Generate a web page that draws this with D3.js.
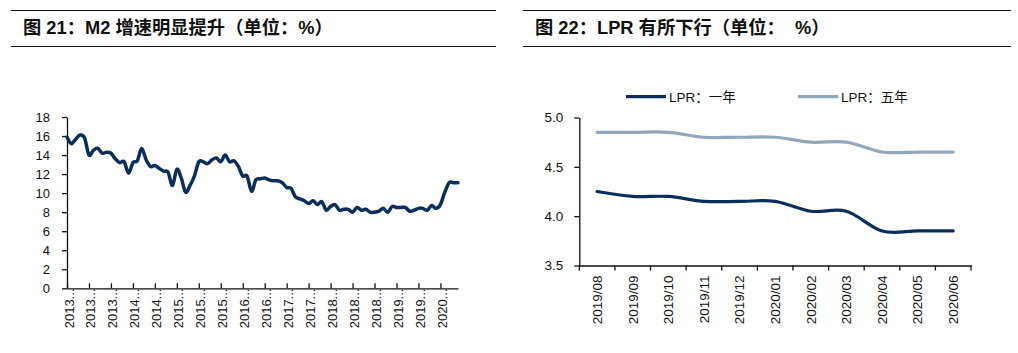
<!DOCTYPE html>
<html>
<head>
<meta charset="utf-8">
<script src="https://cdn.jsdelivr.net/npm/d3@7"></script>
<style>
  html, body { margin: 0; padding: 0; background: #fff; }
  svg { display: block; font-family: "Liberation Sans", Arial, "Noto Sans CJK SC", sans-serif; }
</style>
</head>
<body>
<div id="chart"></div>
<script>
// M2 同比增速（%），2013-01 至 2020-06，按月
const m2Values = [
  15.9, 15.2, 15.7, 16.1, 15.8, 14.0, 14.5, 14.7, 14.2, 14.3, 14.2, 13.6,
  13.2, 13.3, 12.1, 13.2, 13.4, 14.7, 13.5, 12.8, 12.9, 12.6, 12.3, 12.2,
  10.8, 12.5, 11.6, 10.1, 10.8, 11.8, 13.3, 13.3, 13.1, 13.5, 13.7, 13.3,
  14.0, 13.3, 13.4, 12.8, 11.8, 11.8, 10.2, 11.4, 11.5, 11.6, 11.4, 11.3,
  11.3, 11.1, 10.6, 10.5, 9.6, 9.4, 9.2, 8.9, 9.2, 8.8, 9.1, 8.2,
  8.6, 8.8, 8.2, 8.3, 8.3, 8.0, 8.5, 8.2, 8.3, 8.0, 8.0, 8.1,
  8.4, 8.0, 8.6, 8.5, 8.5, 8.5, 8.1, 8.2, 8.4, 8.4, 8.2, 8.7,
  8.4, 8.8, 10.1, 11.1, 11.1, 11.1
]
// 横轴标签每 5 个月一个，原图被截断成 "2013..."
const m2TickLabels = ['2013...', '2013...', '2013...', '2014...', '2014...', '2015...', '2015...', '2015...', '2016...',
  '2016...', '2017...', '2017...', '2018...', '2018...', '2018...', '2019...', '2019...', '2020...']
const m2YTicks = [0, 2, 4, 6, 8, 10, 12, 14, 16, 18]

const lprMonths = ['2019/08', '2019/09', '2019/10', '2019/11', '2019/12', '2020/01', '2020/02', '2020/03', '2020/04', '2020/05', '2020/06']
const lpr1y = [4.25, 4.20, 4.20, 4.15, 4.15, 4.15, 4.05, 4.05, 3.85, 3.85, 3.85]
const lpr5y = [4.85, 4.85, 4.85, 4.80, 4.80, 4.80, 4.75, 4.75, 4.65, 4.65, 4.65]
const lprYTicks = [3.5, 4.0, 4.5, 5.0]
const lprSeries = [
  { name: 'LPR：一年', values: lpr1y, color: '#0b2d5a' },
  { name: 'LPR：五年', values: lpr5y, color: '#94a6b9' }
]

const width = 1018
const height = 353
const svg = d3.select('#chart').append('svg').attr('width', width).attr('height', height)

// 标题栏
function header(x0, x1, label) {
  svg.append('line').attr('x1', x0).attr('x2', x1).attr('y1', 10.5).attr('y2', 10.5).attr('stroke', '#111').attr('stroke-width', 1.2)
  svg.append('line').attr('x1', x0).attr('x2', x1).attr('y1', 46.5).attr('y2', 46.5).attr('stroke', '#111').attr('stroke-width', 1.2)
  svg.append('text').attr('x', x0 + 12).attr('y', 34).text(label)
    .style('font-size', '18.3px').style('font-weight', 'bold').attr('fill', '#111')
    .attr('xml:space', 'preserve')
}
header(11, 496, '图 21：M2 增速明显提升（单位：%）')
header(523, 1011, '图 22：LPR 有所下行（单位：  %）')

// ---------- 左图：M2 ----------
const m2x = d3.scaleLinear().domain([0, m2Values.length - 1]).range([67, 458])
const m2y = d3.scaleLinear().domain([0, 18]).range([288.3, 117])

const m2yAxis = svg.append('g').attr('transform', 'translate(67,0)')
  .call(d3.axisLeft(m2y).tickValues(m2YTicks).tickSize(5).tickSizeOuter(0).tickPadding(12))
m2yAxis.selectAll('text').style('font-size', '13px').attr('fill', '#111')

const m2TickIdx = m2TickLabels.map((d, i) => i * 5)
const m2xAxis = svg.append('g').attr('transform', `translate(0,${m2y(0)})`)
  .call(d3.axisBottom(m2x).tickValues(m2TickIdx).tickSize(-5).tickSizeOuter(0).tickFormat((d, i) => m2TickLabels[i]))
m2xAxis.selectAll('text')
  .attr('transform', 'rotate(-90)').attr('text-anchor', 'start')
  .attr('x', -40).attr('y', 6).attr('dy', 0)
  .style('font-size', '13px').attr('fill', '#111')

svg.selectAll('.domain, .tick line').attr('stroke', '#111').attr('stroke-width', 1.3)

svg.append('path')
  .datum(m2Values)
  .attr('fill', 'none').attr('stroke', '#0b2d5a').attr('stroke-width', 3.5)
  .attr('stroke-linejoin', 'round').attr('stroke-linecap', 'round')
  .attr('d', d3.line().x((d, i) => m2x(i)).y(d => m2y(d)).curve(d3.curveCatmullRom.alpha(0)))

// ---------- 右图：LPR ----------
const lx = d3.scaleBand().domain(lprMonths).range([579.3, 971]).padding(0)
const ly = d3.scaleLinear().domain([3.5, 5.0]).range([265.5, 117.5])

const lyAxis = svg.append('g').attr('transform', 'translate(579.3,0)')
  .call(d3.axisLeft(ly).tickValues(lprYTicks).tickSize(5).tickSizeOuter(0).tickPadding(11).tickFormat(d3.format('.1f')))
lyAxis.selectAll('text').style('font-size', '13.5px').attr('fill', '#111')

const lxAxis = svg.append('g').attr('transform', `translate(0,${ly(3.5)})`)
  .call(d3.axisBottom(lx).tickSize(0).tickSizeOuter(0))
lxAxis.selectAll('text')
  .attr('transform', 'rotate(-90)').attr('text-anchor', 'end')
  .attr('x', -10).attr('y', 4.8).attr('dy', 0)
  .style('font-size', '13.5px').attr('fill', '#111')
// 刻度线在类别之间
const bounds = lprMonths.map(d => lx(d)).concat([lx.range()[1]])
lxAxis.selectAll('.between').data(bounds).join('line').attr('class', 'between')
  .attr('x1', d => d).attr('x2', d => d).attr('y1', 0).attr('y2', 5)

svg.selectAll('.domain, .tick line, .between').attr('stroke', '#111').attr('stroke-width', 1.3)

const lline = d3.line().x((d, i) => lx(lprMonths[i]) + lx.bandwidth() / 2).y(d => ly(d)).curve(d3.curveCatmullRom.alpha(0))
lprSeries.slice().reverse().forEach(s => {
  svg.append('path').datum(s.values)
    .attr('fill', 'none').attr('stroke', s.color).attr('stroke-width', 3.2)
    .attr('stroke-linecap', 'round').attr('d', lline)
})

// 图例
lprSeries.forEach((s, i) => {
  const lg = svg.append('g').attr('transform', `translate(${626 + i * 172}, 96.7)`)
  lg.append('line').attr('x1', 0).attr('x2', 40).attr('stroke', s.color).attr('stroke-width', 3.2)
  lg.append('text').attr('x', 43).attr('y', 5).text(s.name).style('font-size', '13.5px').attr('fill', '#111')
})
</script>
</body>
</html>
